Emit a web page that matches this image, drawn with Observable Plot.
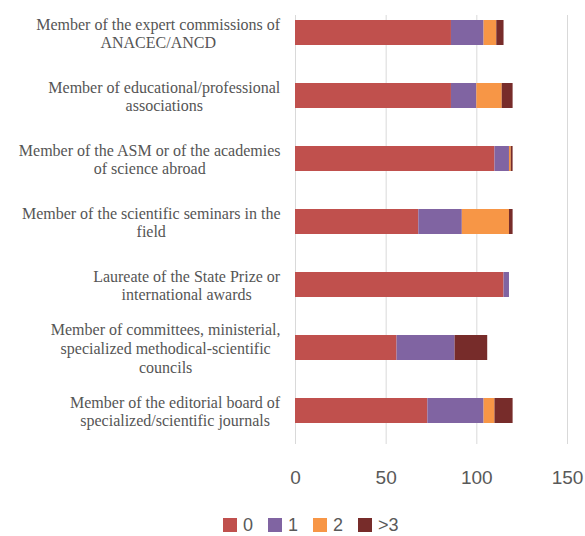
<!DOCTYPE html>
<html>
<head>
<meta charset="utf-8">
<script src="https://cdn.jsdelivr.net/npm/d3@7"></script>
<script src="https://cdn.jsdelivr.net/npm/@observablehq/plot@0.6"></script>
<style>
  html, body { margin: 0; padding: 0; background: #fff; }
  #chart { width: 585px; height: 536px; overflow: hidden; position: relative; }
  #legend { margin-left: 223px; margin-top: 7px; }
  #legend .lg-swatches { font-family: "Liberation Sans", Arial, sans-serif !important; font-size: 18px !important; line-height: 20px !important; color: #595959 !important; margin: 0 !important; }
  #legend .lg-swatches-wrap { min-height: 0 !important; }
  #legend .lg-swatch { margin-right: 15px !important; }
  #legend .lg-swatch > svg { margin-right: 6px !important; }
</style>
</head>
<body>
<div id="chart"></div>
<script>
const categories = [
  "Member of the expert commissions of\nANACEC/ANCD",
  "Member of educational/professional\nassociations",
  "Member of the ASM or of the academies\nof science abroad",
  "Member of the scientific seminars in the\nfield",
  "Laureate of the State Prize or\ninternational awards",
  "Member of committees, ministerial,\nspecialized methodical-scientific\ncouncils",
  "Member of the editorial board of\nspecialized/scientific journals"
];
const series = ["0", "1", "2", ">3"];
const values0 = [86, 86, 110, 68, 115, 56, 73];
const values1 = [18, 14, 8, 24, 3, 32, 31];
const values2 = [7, 14, 1, 26, 0, 0, 6];
const values3 = [4, 6, 1, 2, 0, 18, 10];
const xTicks = [0, 50, 100, 150];
const colors = ["#C0504D", "#8064A2", "#F79646", "#772C2A"];

const allValues = [values0, values1, values2, values3];
const data = categories.flatMap((c, i) =>
  series.map((s, j) => ({category: c, series: s, value: allValues[j][i]}))
);

const chart = Plot.plot({
  width: 585,
  height: 508,
  marginLeft: 295,
  marginRight: 18,
  marginTop: 15,
  marginBottom: 64,
  style: {background: "white", fontFamily: "Liberation Sans, Arial, sans-serif", overflow: "visible"},
  x: {domain: [0, 150]},
  y: {domain: categories, paddingInner: 0.6, paddingOuter: 0.183, align: 0.185},
  color: {domain: series, range: colors},
  marks: [
    Plot.gridX(xTicks, {stroke: "#d9d9d9", strokeOpacity: 1, strokeWidth: 1}),
    Plot.barX(data, {x: "value", y: "category", fill: "series", order: series}),
    Plot.axisX(xTicks, {tickSize: 0, tickPadding: 26, fontSize: 19, fill: "#595959", label: null}),
    Plot.axisY({tickSize: 0, tickPadding: 15, fontSize: 16, fontFamily: "Liberation Serif, Times New Roman, serif", lineHeight: 1.18, fill: "#555", label: null})
  ]
});

const root = document.getElementById("chart");
root.appendChild(chart);

// Center the lines of each multi-line category label within its right-aligned block
chart.querySelectorAll('g[aria-label="y-axis tick label"] text').forEach(t => {
  const w = t.getBBox().width;
  t.setAttribute("text-anchor", "middle");
  const spans = t.querySelectorAll("tspan");
  if (spans.length) spans.forEach(s => s.setAttribute("x", -w / 2));
  else t.setAttribute("x", -w / 2);
});

const leg = document.createElement("div");
leg.id = "legend";
leg.appendChild(chart.legend("color", {className: "lg", swatchSize: 14}));
root.appendChild(leg);
</script>
</body>
</html>
